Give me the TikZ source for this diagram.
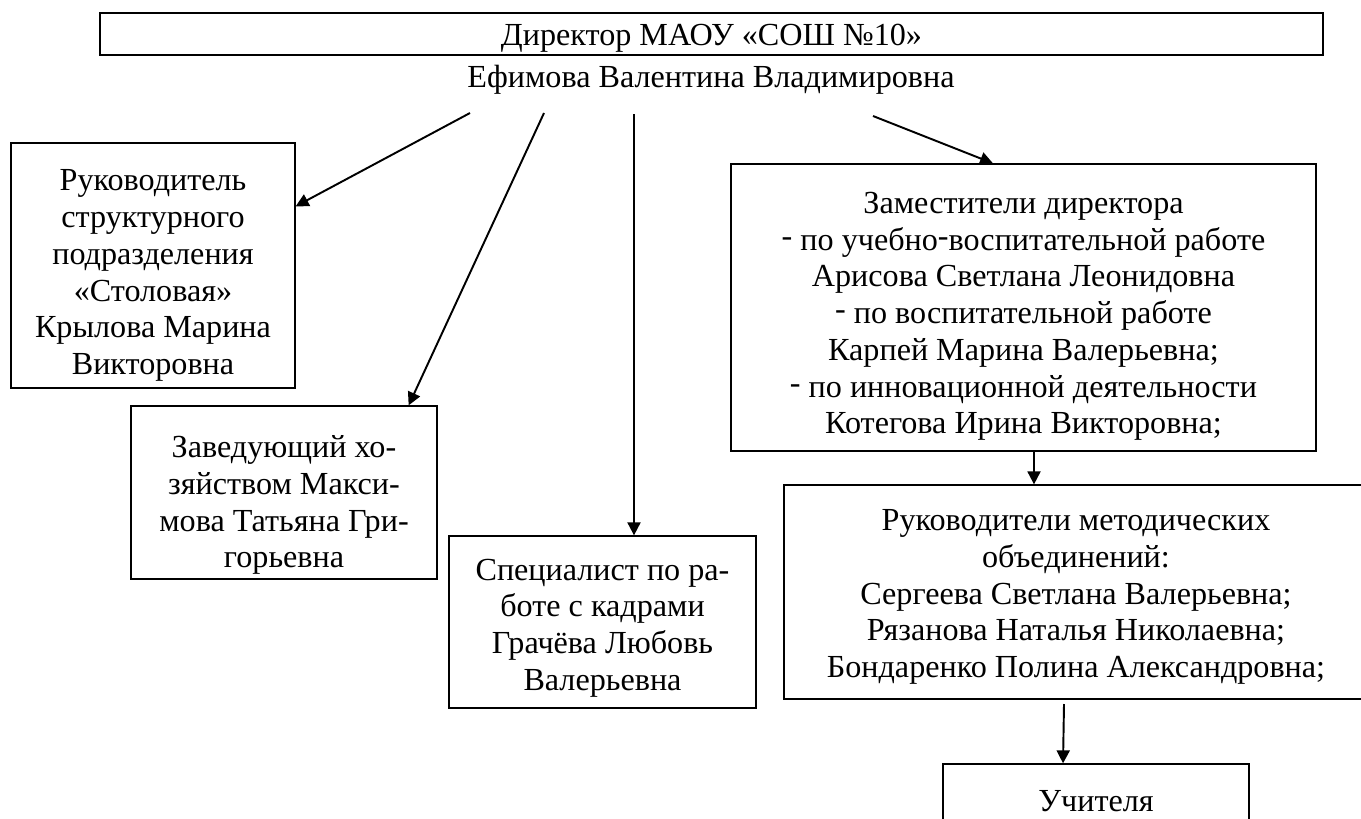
\documentclass[tikz,border=0pt]{standalone}
\usepackage{fontspec}
\setmainfont{Liberation Serif}
\usetikzlibrary{arrows.meta}
\newcommand{\dhy}{\raisebox{0.12em}{-}}
\newcommand{\tstrut}[1]{\rule{0pt}{#1}}

\begin{document}
\begin{tikzpicture}[x=0.02cm, y=-0.02cm]
        \useasboundingbox (0,0) rectangle (1361,818);
        \begin{scope}
            \tikzstyle{every node}=[draw=black, rectangle, line width=0.75pt, inner sep=0pt, align=center, text=black, font=\fontsize{18.3}{20.9}\selectfont]
            \node[minimum width=24.46cm, minimum height=0.84cm, line width=1.3pt] (0) at (711.5,34) {\tstrut{16.5pt}Директор МАОУ «СОШ №10»};
            \node[draw=none, anchor=base] (n) at (711,87) {Ефимова Валентина Владимировна};
            \node[minimum width=5.68cm, minimum height=4.9cm] (1) at (153,265.5) {\tstrut{23.4pt}Руководитель\\структурного\\подразделения\\«Столовая»\\Крылова Марина\\Викторовна};
            \node[minimum width=6.12cm, minimum height=3.46cm] (2) at (284,492.5) {\tstrut{26.9pt}Заведующий хо-\\зяйством Макси-\\мова Татьяна Гри-\\горьевна};
            \node[minimum width=6.14cm, minimum height=3.44cm] (3) at (602.5,622) {\tstrut{18.9pt}Специалист по ра-\\боте с кадрами\\Грачёва Любовь\\Валерьевна};
            \node[minimum width=11.7cm, minimum height=5.74cm] (4) at (1023.5,307.5) {\tstrut{22.3pt}Заместители директора\\\dhy{} по учебно\dhy воспитательной работе\\Арисова Светлана Леонидовна\\\dhy{} по воспитательной работе\\Карпей Марина Валерьевна;\\\dhy{} по инновационной деятельности\\Котегова Ирина Викторовна;};
            \node[minimum width=11.68cm, minimum height=4.28cm] (5) at (1076,592) {\tstrut{17.8pt}Руководители методических\\объединений:\\Сергеева Светлана Валерьевна;\\Рязанова Наталья Николаевна;\\Бондаренко Полина Александровна;};
            \node[minimum width=6.12cm, minimum height=1.5cm] (6) at (1096,801.5) {Учителя};
        \end{scope}
        \begin{scope}
            \tikzstyle{every edge}=[draw, line width=1.1pt, -{Triangle[length=0.26cm, width=0.26cm]}]
            \coordinate (t1) at (470,113);
            \coordinate (t2) at (544,113);
            \coordinate (t3) at (634,114);
            \coordinate (t4) at (873,116);
            \coordinate (t5) at ([xshift=0.21cm]4.south);
            \coordinate (t6) at (1064,704);
            \path
            (t1) edge[] ([yshift=-1.28cm]1.north east)
            (t2) edge[] ([xshift=-0.58cm]2.north east)
            (t3) edge[] (t3 |- 3.north)
            (t4) edge[] ([xshift=-0.61cm]4.north)
            (t5) edge[] (t5 |- 5.north)
            (t6) edge[] ([xshift=-0.66cm]6.north);
        \end{scope}
    \end{tikzpicture}
\end{document}
